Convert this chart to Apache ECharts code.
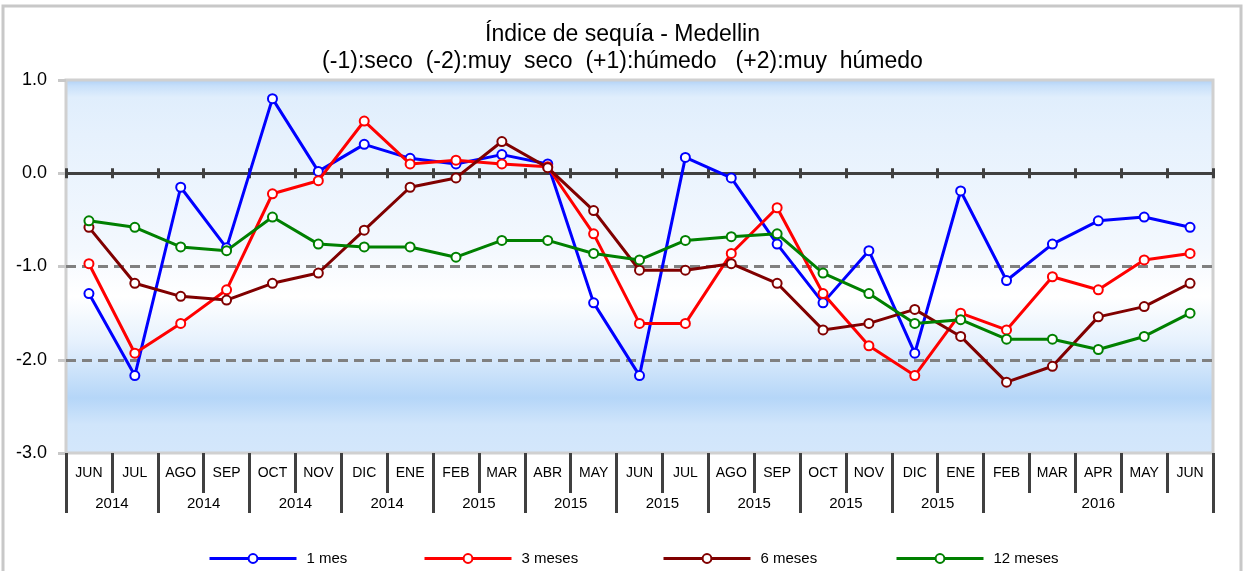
<!DOCTYPE html>
<html>
<head>
<meta charset="utf-8">
<script src="https://cdn.jsdelivr.net/npm/echarts@6/dist/echarts.min.js"></script>
<style>
html, body { margin: 0; padding: 0; background: #fff; }
#chart { width: 1245px; height: 571px; }
</style>
</head>
<body>
<div id="chart"></div>
<script>
var months = ['JUN', 'JUL', 'AGO', 'SEP', 'OCT', 'NOV', 'DIC', 'ENE', 'FEB', 'MAR', 'ABR', 'MAY',
  'JUN', 'JUL', 'AGO', 'SEP', 'OCT', 'NOV', 'DIC', 'ENE', 'FEB', 'MAR', 'APR', 'MAY', 'JUN'];
// year row of the axis: label and number of months under it
var yearLabels = ['2014', '2014', '2014', '2014', '2015', '2015', '2015', '2015', '2015', '2015', '2016'];
var yearSizes = [2, 2, 2, 2, 2, 2, 2, 2, 2, 2, 5];

var yMin = -3, yMax = 1, yStep = 1;
var dryLevels = [-1, -2];

var seriesNames = ['1 mes', '3 meses', '6 meses', '12 meses'];
var mes1 = [-1.29, -2.17, -0.15, -0.80, 0.80, 0.02, 0.31, 0.16, 0.10, 0.20, 0.10, -1.39,
  -2.17, 0.17, -0.05, -0.76, -1.39, -0.83, -1.93, -0.19, -1.15, -0.76, -0.51, -0.47, -0.58];
var mes3 = [-0.97, -1.93, -1.61, -1.25, -0.22, -0.08, 0.56, 0.10, 0.14, 0.10, 0.07, -0.65,
  -1.61, -1.61, -0.86, -0.37, -1.29, -1.85, -2.17, -1.50, -1.68, -1.11, -1.25, -0.93, -0.86];
var mes6 = [-0.58, -1.18, -1.32, -1.36, -1.18, -1.07, -0.61, -0.15, -0.05, 0.34, 0.06, -0.40,
  -1.04, -1.04, -0.97, -1.18, -1.68, -1.61, -1.46, -1.75, -2.24, -2.07, -1.54, -1.43, -1.18];
var mes12 = [-0.51, -0.58, -0.79, -0.83, -0.47, -0.76, -0.79, -0.79, -0.90, -0.72, -0.72, -0.86,
  -0.93, -0.72, -0.68, -0.65, -1.07, -1.29, -1.61, -1.57, -1.78, -1.78, -1.89, -1.75, -1.50];

var colors = ['#0000ff', '#ff0000', '#800000', '#008000'];
var font = "'Liberation Sans', Arial, sans-serif";

// half-month slots so year labels can sit on month boundaries
var yearSlots = [];
for (var i = 0; i <= months.length * 2; i++) yearSlots.push('');
var yearTickAt = {0: true};
var yearLabelAt = {};
var start = 0;
for (var g = 0; g < yearLabels.length; g++) {
  yearSlots[start * 2 + yearSizes[g]] = yearLabels[g];
  yearLabelAt[start * 2 + yearSizes[g]] = true;
  start += yearSizes[g];
  yearTickAt[start * 2] = true;
}

var myChart = echarts.init(document.getElementById('chart'));

var bg = new echarts.graphic.LinearGradient(0, 0, 0, 1, [
  {offset: 0, color: '#aacdf5'},
  {offset: 0.02, color: '#c8e0fa'},
  {offset: 0.05, color: '#e0eefc'},
  {offset: 0.15, color: '#e6f1fd'},
  {offset: 0.45, color: '#f3f8fe'},
  {offset: 0.58, color: '#ffffff'},
  {offset: 0.70, color: '#e6f1fd'},
  {offset: 0.85, color: '#b5d6f8'},
  {offset: 0.92, color: '#d0e5fb'},
  {offset: 1, color: '#d4e7fb'}
]);

var legendLefts = [203, 418, 657, 890];

var option = {
  backgroundColor: '#fff',
  textStyle: { fontFamily: font },
  title: {
    text: 'Índice de sequía - Medellin\n(-1):seco  (-2):muy  seco  (+1):húmedo   (+2):muy  húmedo',
    left: 'center',
    top: 16,
    textStyle: { fontSize: 23, fontWeight: 'normal', color: '#000', lineHeight: 27, fontFamily: font }
  },
  graphic: [{
    type: 'rect',
    shape: { x: 3, y: 6, width: 1238, height: 620 },
    style: { fill: 'none', stroke: '#c8c8c8', lineWidth: 3 },
    silent: true
  }],
  legend: seriesNames.map(function (n, i) {
    return {
      data: [n],
      left: legendLefts[i],
      top: 546,
      itemWidth: 87,
      itemHeight: 11,
      lineStyle: { width: 3 },
      textStyle: { fontSize: 15, color: '#000', fontFamily: font, padding: [0, 0, 0, 5] }
    };
  }),
  grid: {
    left: 66, right: 32, top: 80, bottom: 118,
    show: true,
    backgroundColor: bg,
    borderColor: '#d0d0d0',
    borderWidth: 3
  },
  xAxis: [
    {
      type: 'category', data: months, position: 'bottom', boundaryGap: true,
      axisLine: { show: false, onZero: false },
      axisTick: { show: true, interval: 0, length: 40, lineStyle: { color: '#404040', width: 3 } },
      axisLabel: { interval: 0, margin: 13, fontSize: 14, color: '#000' },
      splitLine: { show: false }
    },
    {
      type: 'category', data: yearSlots, position: 'bottom', boundaryGap: false,
      axisLine: { show: false, onZero: false },
      axisTick: { show: true, interval: function (i) { return !!yearTickAt[i]; }, length: 60,
        lineStyle: { color: '#404040', width: 3 } },
      axisLabel: { interval: function (i) { return !!yearLabelAt[i]; }, margin: 43, fontSize: 15, color: '#000' },
      splitLine: { show: false }
    },
    {
      type: 'category', data: months, position: 'bottom', boundaryGap: true,
      axisLine: { show: true, onZero: true, onZeroAxisIndex: 0, lineStyle: { color: '#404040', width: 3 } },
      axisTick: { show: true, inside: true, interval: 0, length: 5, lineStyle: { color: '#404040', width: 3 } },
      axisLabel: { show: false },
      splitLine: { show: false }
    },
    {
      type: 'category', data: months, position: 'bottom', boundaryGap: true,
      axisLine: { show: false, onZero: true, onZeroAxisIndex: 0 },
      axisTick: { show: true, interval: 0, length: 5, lineStyle: { color: '#404040', width: 3 } },
      axisLabel: { show: false },
      splitLine: { show: false }
    }
  ],
  yAxis: {
    type: 'value', min: yMin, max: yMax, interval: yStep,
    axisLine: { show: false },
    axisTick: { show: true, length: 8, lineStyle: { color: '#c8c8c8', width: 3 } },
    axisLabel: { margin: 19, fontSize: 18, color: '#000', formatter: function (v) { return v.toFixed(1); } },
    splitLine: { show: false }
  },
  series: [mes1, mes3, mes6, mes12].map(function (d, i) {
    var s = {
      name: seriesNames[i],
      type: 'line',
      data: d,
      xAxisIndex: 0,
      yAxisIndex: 0,
      symbol: 'emptyCircle',
      symbolSize: 9,
      color: colors[i],
      lineStyle: { color: colors[i], width: 3 },
      itemStyle: { color: colors[i], borderColor: colors[i], borderWidth: 2.5 },
      z: 3 + i
    };
    if (i === 0) {
      s.markLine = {
        silent: true,
        symbol: 'none',
        z: 1,
        label: { show: false },
        lineStyle: { color: '#808080', width: 3, type: [10, 6] },
        data: dryLevels.map(function (v) { return { yAxis: v }; })
      };
    }
    return s;
  })
};

myChart.setOption(option);
</script>
</body>
</html>
